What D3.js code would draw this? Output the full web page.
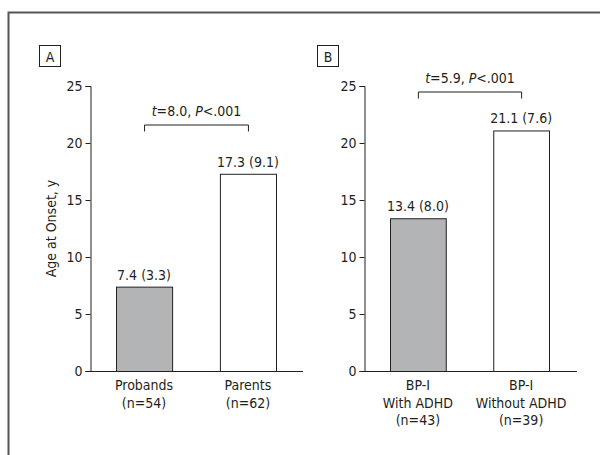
<!DOCTYPE html>
<html>
<head>
<meta charset="utf-8">
<script src="https://cdn.jsdelivr.net/npm/d3@7"></script>
<style>
  body { margin: 0; background: #fff; }
  svg text { font-family: 'DejaVu Sans Condensed', 'Liberation Sans', sans-serif; font-stretch: condensed; fill: #231f20; }
</style>
</head>
<body>
<div id="chart"></div>
<script>
const width = 600, height = 455;

// Panel A
const groupsA = [['Probands', '(n=54)'], ['Parents', '(n=62)']];
const meansA = [7.4, 17.3];
const sdsA = [3.3, 9.1];
const testA = ['8.0', '.001'];

// Panel B
const groupsB = [['BP-I', 'With ADHD', '(n=43)'], ['BP-I', 'Without ADHD', '(n=39)']];
const meansB = [13.4, 21.1];
const sdsB = [8.0, 7.6];
const testB = ['5.9', '.001'];

const yTicks = [0, 5, 10, 15, 20, 25];
const barFills = ['#b3b4b6', '#ffffff'];
const fontSize = '14px';

const svg = d3.select('#chart').append('svg')
  .attr('width', width).attr('height', height);

// outer frame (top + left only visible)
svg.append('path')
  .attr('d', `M 8.5,${height} L 8.5,12.5 L ${width},12.5`)
  .attr('fill', 'none').attr('stroke', '#555').attr('stroke-width', 2);

const y = d3.scaleLinear().domain([0, 25]).range([371, 86]);

const drawPanel = (opts) => {
  const { letter, x0, x1, bandRange, groups, means, sds, test, bracketY, yTitle } = opts;
  const g = svg.append('g');

  const x = d3.scaleBand()
    .domain(groups.map((_, i) => i))
    .range(bandRange)
    .paddingInner(0.46)
    .paddingOuter(0.0);

  // letter box
  g.append('rect')
    .attr('x', opts.boxX + 0.5).attr('y', 45.5)
    .attr('width', 21).attr('height', 21)
    .attr('fill', '#fff').attr('stroke', '#231f20');
  g.append('text')
    .attr('x', opts.boxX + 11).attr('y', 62)
    .attr('text-anchor', 'middle')
    .style('font-size', fontSize)
    .text(letter);

  // y axis
  const yAxis = g.append('g')
    .attr('transform', `translate(${x0},0)`)
    .call(d3.axisLeft(y).tickValues(yTicks).tickSize(5).tickPadding(3));
  yAxis.attr('font-family', null);
  yAxis.select('.domain').attr('stroke', '#231f20');
  yAxis.selectAll('.tick line').attr('stroke', '#231f20');
  yAxis.selectAll('.tick text').style('font-size', fontSize).attr('fill', '#231f20');

  // x axis baseline
  g.append('line')
    .attr('x1', x0).attr('x2', x1)
    .attr('y1', y(0) + 0.5).attr('y2', y(0) + 0.5)
    .attr('stroke', '#231f20');

  // bars
  g.selectAll('.bar')
    .data(means)
    .enter()
    .append('rect')
    .attr('class', 'bar')
    .attr('x', (d, i) => x(i) + 0.5)
    .attr('y', (d) => y(d) + 0.5)
    .attr('width', x.bandwidth())
    .attr('height', (d) => y(0) - y(d))
    .attr('fill', (d, i) => barFills[i])
    .attr('stroke', '#231f20');

  // value labels
  g.selectAll('.val')
    .data(means)
    .enter()
    .append('text')
    .attr('x', (d, i) => x(i) + x.bandwidth() / 2)
    .attr('y', (d) => y(d) - 7)
    .attr('text-anchor', 'middle')
    .style('font-size', fontSize)
    .text((d, i) => `${d.toFixed(1)} (${sds[i].toFixed(1)})`);

  // category labels
  groups.forEach((lines, i) => {
    const t = g.append('text')
      .attr('text-anchor', 'middle')
      .style('font-size', fontSize);
    lines.forEach((line, j) => {
      t.append('tspan')
        .attr('x', x(i) + x.bandwidth() / 2)
        .attr('y', 390 + j * 17.5)
        .text(line);
    });
  });

  // significance bracket
  const bx1 = x(0) + x.bandwidth() / 2 + 0.5, bx2 = x(1) + x.bandwidth() / 2 + 0.5;
  g.append('path')
    .attr('d', `M ${bx1},${bracketY + 7} L ${bx1},${bracketY + 0.5} L ${bx2},${bracketY + 0.5} L ${bx2},${bracketY + 7}`)
    .attr('fill', 'none').attr('stroke', '#231f20');
  const st = g.append('text')
    .attr('x', (bx1 + bx2) / 2).attr('y', bracketY - 9)
    .attr('text-anchor', 'middle')
    .style('font-size', fontSize);
  st.append('tspan').style('font-style', 'italic').text('t');
  st.append('tspan').text(`=${test[0]}, `);
  st.append('tspan').style('font-style', 'italic').text('P');
  st.append('tspan').text(`<${test[1]}`);

  if (yTitle) {
    g.append('text')
      .attr('transform', `translate(56,${(y(0) + y(25)) / 2}) rotate(-90)`)
      .attr('text-anchor', 'middle')
      .style('font-size', fontSize)
      .text(yTitle);
  }
};

drawPanel({
  letter: 'A', boxX: 39, x0: 90.5, x1: 303, bandRange: [116, 276],
  groups: groupsA, means: meansA, sds: sdsA, test: testA, bracketY: 124.5,
  yTitle: 'Age at Onset, y'
});

drawPanel({
  letter: 'B', boxX: 317, x0: 364.5, x1: 577, bandRange: [390, 549],
  groups: groupsB, means: meansB, sds: sdsB, test: testB, bracketY: 91.5
});
</script>
</body>
</html>
